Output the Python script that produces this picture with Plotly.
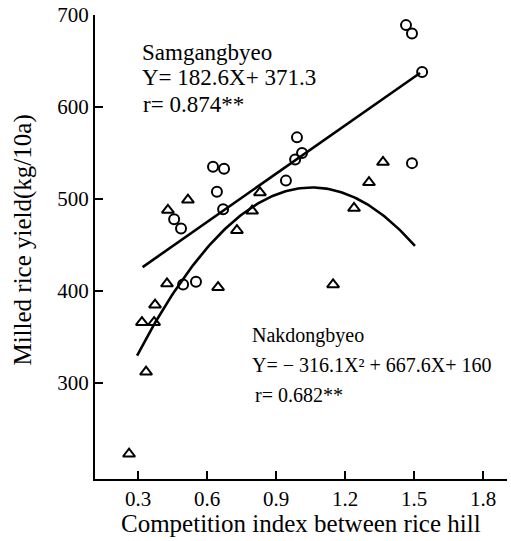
import numpy as np
import plotly.graph_objects as go

# Samgangbyeo (circles)
sam_x = [1.465, 1.491, 1.535, 1.491, 0.991, 1.013, 0.983, 0.943,
         0.626, 0.674, 0.643, 0.670, 0.457, 0.487, 0.496, 0.552]
sam_y = [689, 680, 638, 539, 567, 550, 543, 520,
         535, 533, 508, 489, 478, 468, 407, 410]

# Nakdongbyeo (triangles)
nak_x = [0.261, 0.335, 0.317, 0.370, 0.374, 0.426, 0.648, 0.430,
         0.517, 0.830, 0.796, 0.730, 1.239, 1.304, 1.365, 1.148]
nak_y = [223, 312, 366, 366, 385, 408, 404, 488,
         499, 507, 487, 466, 490, 518, 540, 407]

# Samgangbyeo fitted line (as drawn): end points
sam_line_x = [0.320, 1.526]
sam_line_y = [426, 637]

# Nakdongbyeo quadratic fit coefficients and drawn x-span
nak_a, nak_b, nak_c = -316.1, 667.6, 160.0
nak_span = [0.296, 1.504]

x_ticks = [0.3, 0.6, 0.9, 1.2, 1.5, 1.8]
x_ticktext = ["0.3", "0.6", "0.9", "1.2", "1.5", "1.8"]
y_ticks = [300, 400, 500, 600, 700]
y_ticktext = ["300", "400", "500", "600", "700"]

FONT = "Liberation Serif"

qx = np.linspace(nak_span[0], nak_span[1], 120)
qy = nak_a * qx ** 2 + nak_b * qx + nak_c

fig = go.Figure()
fig.add_trace(go.Scatter(x=sam_line_x, y=sam_line_y, mode="lines",
                         line=dict(color="black", width=2.6), hoverinfo="skip"))
fig.add_trace(go.Scatter(x=qx, y=qy, mode="lines",
                         line=dict(color="black", width=2.6), hoverinfo="skip"))
fig.add_trace(go.Scatter(x=sam_x, y=sam_y, mode="markers",
                         marker=dict(symbol="circle-open", size=10,
                                     color="black", line=dict(width=2, color="black")),
                         cliponaxis=False, name="Samgangbyeo"))
fig.add_trace(go.Scatter(x=nak_x, y=nak_y, mode="markers",
                         marker=dict(symbol="triangle-up-open", size=10.5,
                                     color="black", line=dict(width=2, color="black")),
                         cliponaxis=False, name="Nakdongbyeo"))

upper_font = dict(family=FONT, size=23, color="black")
lower_font = dict(family=FONT, size=20, color="black")
texts = [
    ("Samgangbyeo", 0.309, 659, upper_font),
    ("Y= 182.6X+ 371.3", 0.309, 632, upper_font),
    ("r= 0.874**", 0.311, 603, upper_font),
    ("Nakdongbyeo", 0.787, 352, lower_font),
    ("Y= − 316.1X² + 667.6X+ 160", 0.787, 319.5, lower_font),
    ("r= 0.682**", 0.80, 287, lower_font),
]
for t, x, y, f in texts:
    fig.add_annotation(text=t, x=x, y=y, xref="x", yref="y", xanchor="left",
                       yanchor="middle", showarrow=False, font=f)

fig.add_annotation(text="Milled rice yield(kg/10a)", xref="paper", yref="paper",
                   x=-0.177, y=0.514, textangle=-90, showarrow=False,
                   xanchor="center", yanchor="middle",
                   font=dict(family=FONT, size=25, color="black"))
fig.add_annotation(text="Competition index between rice hill", xref="paper", yref="paper",
                   x=0.5, y=-0.095, showarrow=False, xanchor="center", yanchor="middle",
                   font=dict(family=FONT, size=25, color="black"))

axis_common = dict(showline=True, linecolor="black", linewidth=2, ticks="inside",
                   ticklen=8, tickwidth=1.5, tickcolor="black", showgrid=False,
                   zeroline=False, tickfont=dict(family=FONT, size=21, color="black"))
fig.update_xaxes(range=[0.113, 1.904], tickvals=x_ticks, ticktext=x_ticktext, **axis_common)
fig.update_yaxes(range=[195.7, 700], tickvals=y_ticks, ticktext=y_ticktext, **axis_common)

fig.update_layout(width=511, height=541, margin=dict(l=95, r=4, t=15, b=62),
                  plot_bgcolor="white", paper_bgcolor="white", showlegend=False)

fig.write_html("out.html")
